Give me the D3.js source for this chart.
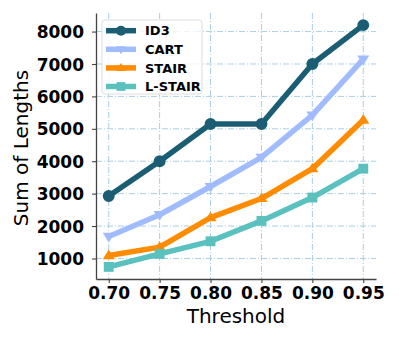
<!DOCTYPE html>
<html>
<head>
<meta charset="utf-8">
<script src="https://cdn.jsdelivr.net/npm/d3@7"></script>
<style>
  body { margin: 0; background: #fff; }
  svg { display: block; font-family: "DejaVu Sans", sans-serif; }
</style>
</head>
<body>
<div id="chart"></div>
<script>
const thresholds = [0.70, 0.75, 0.80, 0.85, 0.90, 0.95];
const xTicks = ["0.70", "0.75", "0.80", "0.85", "0.90", "0.95"];
const yTicks = [1000, 2000, 3000, 4000, 5000, 6000, 7000, 8000];

const id3 = [2930, 4000, 5150, 5150, 7000, 8200];
const cart = [1680, 2350, 3220, 4120, 5420, 7150];
const stair = [1090, 1350, 2260, 2850, 3770, 5270];
const lstair = [740, 1140, 1530, 2160, 2880, 3770];

const seriesNames = ["ID3", "CART", "STAIR", "L-STAIR"];
const seriesValues = [id3, cart, stair, lstair];

const lineColor = {
    'ID3': '#1b5e74',
    'CART': '#a1bbff',
    'STAIR': '#ff8c00',
    'L-STAIR': '#5bc1bf'
};
const markerType = {
    'ID3': d3.symbolCircle,
    'CART': 'down',
    'STAIR': 'up',
    'L-STAIR': d3.symbolSquare
};

var W = 399, H = 342;
var margin = { top: 13, right: 23, bottom: 63, left: 96 },
    width = W - margin.left - margin.right,
    height = H - margin.top - margin.bottom;

var svg = d3.select('#chart').append('svg')
    .attr("width", W)
    .attr("height", H);

var g = svg.append("g")
    .attr("transform", "translate(" + margin.left + "," + margin.top + ")");

// matplotlib-like 5% margins
var xPad = (0.95 - 0.70) * 0.05;
var xScale = d3.scaleLinear()
    .domain([0.70 - xPad, 0.95 + xPad])
    .range([0, width]);

var yMin = 740, yMax = 8200, yPad = (yMax - yMin) * 0.05;
var yScale = d3.scaleLinear()
    .domain([yMin - yPad, yMax + yPad])
    .range([height, 0]);

// grid
g.append("g").selectAll("line")
    .data(thresholds)
    .enter().append("line")
    .attr("x1", d => xScale(d)).attr("x2", d => xScale(d))
    .attr("y1", 0).attr("y2", height)
    .attr("stroke", "#a9cfe6")
    .attr("stroke-width", 1)
    .attr("stroke-dasharray", "6,2,1,2");

g.append("g").selectAll("line")
    .data(yTicks)
    .enter().append("line")
    .attr("y1", d => yScale(d)).attr("y2", d => yScale(d))
    .attr("x1", 0).attr("x2", width)
    .attr("stroke", "#a9cfe6")
    .attr("stroke-width", 1)
    .attr("stroke-dasharray", "6,2,1,2");

// axes
var yAxis = g.append("g")
    .call(d3.axisLeft(yScale).tickValues(yTicks).tickFormat(d3.format("d"))
        .tickSize(4).tickPadding(8).tickSizeOuter(0));
var xAxis = g.append("g")
    .attr("transform", "translate(0," + height + ")")
    .call(d3.axisBottom(xScale).tickValues(thresholds).tickFormat((d, i) => xTicks[i])
        .tickSize(4).tickPadding(4).tickSizeOuter(0));

[yAxis, xAxis].forEach(function (a) {
    a.select(".domain").attr("stroke", "#444").attr("stroke-width", 1.3);
    a.selectAll(".tick line").attr("stroke", "#444").attr("stroke-width", 1.1);
    a.selectAll(".tick text")
        .attr("fill", "#000")
        .style("font-family", "DejaVu Sans")
        .style("font-weight", "bold")
        .style("font-size", "17px");
});
xAxis.selectAll(".tick text").attr("dy", "0.71em");
yAxis.selectAll(".tick text").attr("dy", "0.36em");

// axis labels
svg.append("text")
    .attr("x", margin.left + width / 2)
    .attr("y", 323)
    .attr("text-anchor", "middle")
    .style("font-size", "20px")
    .text("Threshold");

svg.append("text")
    .attr("transform", "translate(27.5,148) rotate(-90)")
    .attr("text-anchor", "middle")
    .style("font-size", "20px")
    .text("Sum of Lengths");

function markerPath(type, size) {
    if (type === 'down' || type === 'up') {
        var r = size;
        var s = type === 'up' ? -1 : 1;
        return "M" + (-r) + "," + (-s * r * 0.6) + "L" + r + "," + (-s * r * 0.6) + "L0," + (s * r) + "Z";
    }
    return d3.symbol().type(type).size(size * size * 3.1)();
}

var lineGen = d3.line()
    .x(function (d, i) { return xScale(thresholds[i]); })
    .y(function (d) { return yScale(d); });

seriesNames.forEach(function (name, k) {
    var vals = seriesValues[k];
    g.append("path")
        .attr("fill", "none")
        .attr("stroke", lineColor[name])
        .attr("stroke-width", 5.5)
        .attr("stroke-linejoin", "round")
        .attr("d", lineGen(vals));
    g.append("g").selectAll("path")
        .data(vals)
        .enter().append("path")
        .attr("transform", function (d, i) { return "translate(" + xScale(thresholds[i]) + "," + yScale(d) + ")"; })
        .attr("d", markerPath(markerType[name], name === 'L-STAIR' ? 5.6 : 6))
        .attr("fill", lineColor[name]);
});

// legend
var legend = svg.append("g").attr("transform", "translate(102,20)");
legend.append("rect")
    .attr("width", 100).attr("height", 74)
    .attr("rx", 3)
    .attr("fill", "rgba(255,255,255,0.8)")
    .attr("stroke", "#ddd");

var item = legend.selectAll("g.item")
    .data(seriesNames)
    .enter().append("g")
    .attr("class", "item")
    .attr("transform", function (d, i) { return "translate(0," + (10.7 + i * 18.6) + ")"; });

item.append("line")
    .attr("x1", 4).attr("x2", 34)
    .attr("stroke", d => lineColor[d])
    .attr("stroke-width", 5.5);
item.append("path")
    .attr("transform", "translate(19,0)")
    .attr("d", d => markerPath(markerType[d], 5))
    .attr("fill", d => lineColor[d]);
item.append("text")
    .attr("x", 43)
    .attr("dy", "0.36em")
    .style("font-weight", "bold")
    .style("font-size", "13px")
    .text(d => d);
</script>
</body>
</html>
